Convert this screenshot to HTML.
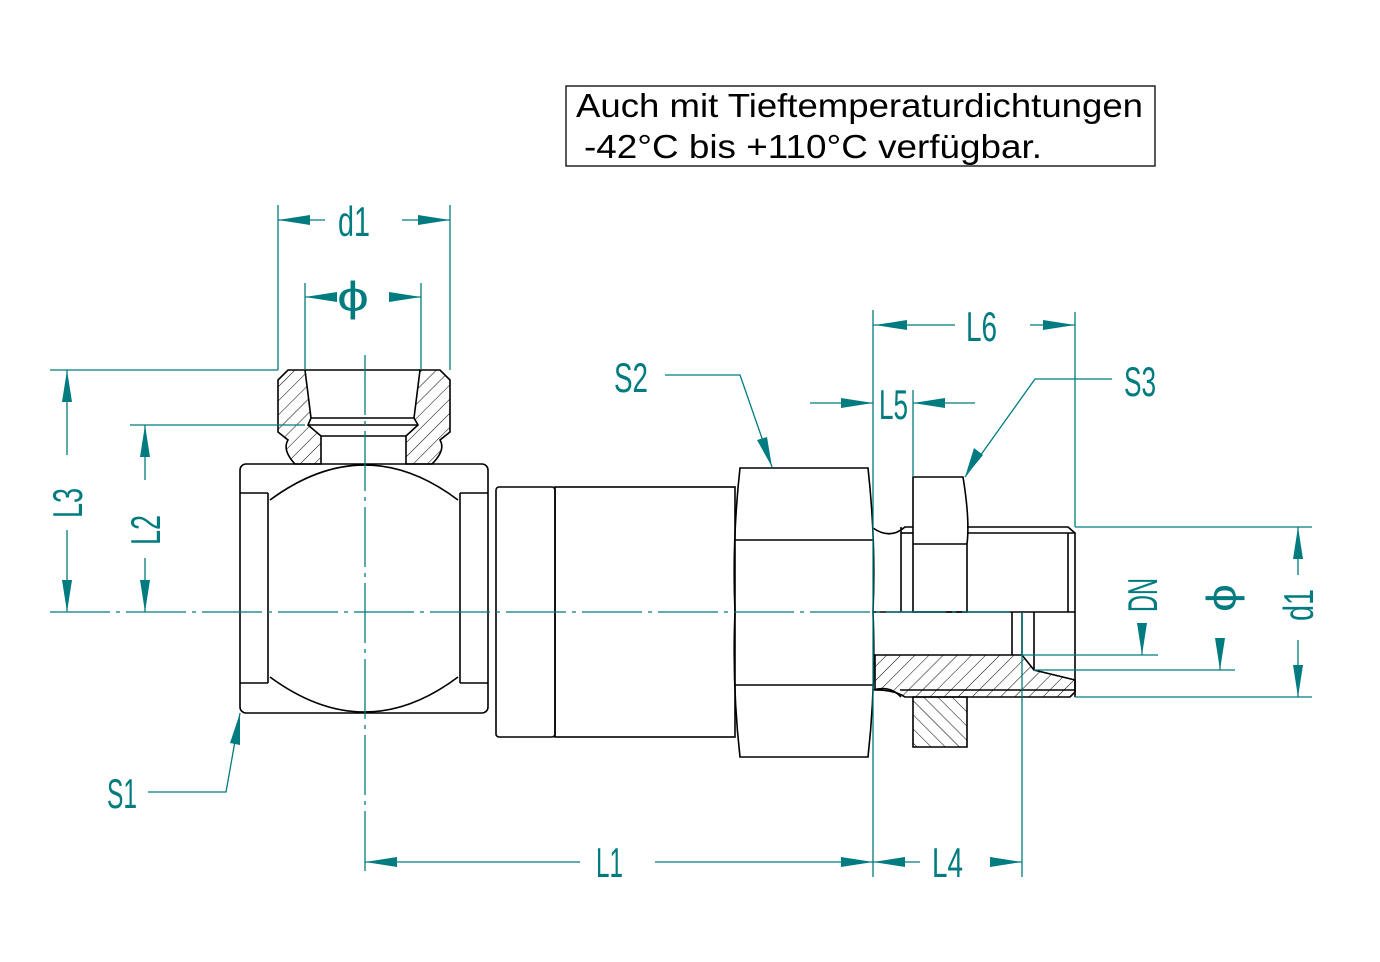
<!DOCTYPE html>
<html><head><meta charset="utf-8"><style>
html,body{margin:0;padding:0;background:#fff;}
svg{display:block}
.t{font-family:"Liberation Sans",sans-serif;fill:#007c80;font-size:42px;}
</style></head><body>
<svg width="1380" height="962" viewBox="0 0 1380 962" xmlns="http://www.w3.org/2000/svg">
<rect x="566" y="86" width="589" height="80" fill="none" stroke="#000" stroke-width="1.3"/>
<text x="576" y="117" font-family="Liberation Sans, sans-serif" font-size="33" textLength="567" lengthAdjust="spacingAndGlyphs">Auch mit Tieftemperaturdichtungen</text>
<text x="584" y="158" font-family="Liberation Sans, sans-serif" font-size="33" textLength="458" lengthAdjust="spacingAndGlyphs">-42°C bis +110°C verfügbar.</text>

<defs>
<pattern id="h" width="10" height="10" patternUnits="userSpaceOnUse" patternTransform="rotate(45)"><line x1="0" y1="0" x2="0" y2="10" stroke="#000" stroke-width="1"/></pattern>
<pattern id="h2" width="10" height="10" patternUnits="userSpaceOnUse" patternTransform="rotate(-45)"><line x1="0" y1="0" x2="0" y2="10" stroke="#000" stroke-width="1"/></pattern>
</defs>

<g fill="none" stroke="#000" stroke-width="1.6">
<path d="M278 380 L288 370 L305 370 L311 418 L308 425 L321 436 L321 464 L295 464 Q282 450 288 440 L278 432 Z" fill="url(#h)"/>
<path d="M450 380 L440 370 L420 370 L414 418 L418 425 L406 436 L406 464 L432 464 Q446 450 440 440 L450 432 Z" fill="url(#h)"/>
<line x1="305" y1="370" x2="420" y2="370"/>
<line x1="311" y1="418" x2="414" y2="418"/>
<line x1="308" y1="425" x2="418" y2="425"/>
<line x1="321" y1="436" x2="406" y2="436"/>
<rect x="240" y="464" width="248" height="249" rx="6"/>
<line x1="268" y1="493" x2="268" y2="683"/>
<line x1="460" y1="493" x2="460" y2="683"/>
<line x1="240" y1="493" x2="268" y2="493"/><line x1="460" y1="493" x2="488" y2="493"/>
<line x1="240" y1="683" x2="268" y2="683"/><line x1="460" y1="683" x2="488" y2="683"/>
<path d="M270 500 Q365 430 458 500"/>
<path d="M270 677 Q365 747 458 677"/>
<rect x="496" y="487" width="59" height="250" rx="3"/>
<rect x="555" y="487" width="180" height="250"/>
<path d="M740 468 L868 468 Q876 540 873 612 Q876 685 868 757 L740 757 Q732 685 735 612 Q732 540 740 468 Z"/>
<line x1="735" y1="540" x2="873" y2="540"/>
<line x1="735" y1="685" x2="873" y2="685"/>
<path d="M873 528 Q890 540 905 527 L913 527"/>
<line x1="901" y1="527" x2="901" y2="612"/>
<line x1="901" y1="533" x2="913" y2="533"/>
<path d="M913 477 L963 477 Q970 520 967 544 L967 612 L913 612 Z"/>
<line x1="913" y1="544" x2="967" y2="544"/>
<path d="M967 527 L1068 527 L1075 533 L1075 697"/>
<line x1="967" y1="533" x2="1075" y2="533"/>
<line x1="1068" y1="533" x2="1068" y2="612"/>
<line x1="873" y1="612" x2="1075" y2="612"/>
<line x1="1012" y1="612" x2="1012" y2="655"/>
<line x1="1022" y1="612" x2="1022" y2="655"/>
<line x1="1034" y1="612" x2="1034" y2="670"/>
<path d="M875 655 L1022 655 L1034 670 L1075 680 L1075 692 L1070 697 L905 697 Q895 690 875 690 Z" fill="url(#h)"/>
<path d="M900 690 L1075 690" />
<path d="M913 697 L967 697 L967 747 L913 747 Z" fill="url(#h2)"/>
<path d="M873 690 Q890 685 901 697"/>
</g>

<g stroke="#007c80" stroke-width="1.3" fill="none">
<line x1="50" y1="612" x2="1010" y2="612" stroke-dasharray="60,6,4,6"/>
<line x1="365" y1="355" x2="365" y2="877" stroke-dasharray="60,6,4,6"/>
<line x1="278" y1="205" x2="278" y2="370"/><line x1="450" y1="205" x2="450" y2="370"/>
<line x1="278" y1="220" x2="325" y2="220"/><line x1="402" y1="220" x2="450" y2="220"/>
<line x1="305" y1="283" x2="305" y2="370"/><line x1="421" y1="283" x2="421" y2="370"/>
<line x1="305" y1="297" x2="335" y2="297"/><line x1="390" y1="297" x2="421" y2="297"/>
<line x1="50" y1="370" x2="278" y2="370"/><line x1="130" y1="425" x2="305" y2="425"/>
<line x1="67" y1="370" x2="67" y2="455"/><line x1="67" y1="530" x2="67" y2="612"/>
<line x1="145" y1="425" x2="145" y2="480"/><line x1="145" y1="558" x2="145" y2="612"/>
<line x1="365" y1="862" x2="580" y2="862"/><line x1="655" y1="862" x2="873" y2="862"/>
<line x1="873" y1="862" x2="920" y2="862"/><line x1="990" y1="862" x2="1022" y2="862"/>
<line x1="873" y1="310" x2="873" y2="877"/><line x1="1022" y1="612" x2="1022" y2="877"/>
<line x1="1075" y1="312" x2="1075" y2="527"/>
<line x1="913" y1="390" x2="913" y2="477"/>
<line x1="873" y1="325" x2="955" y2="325"/><line x1="1030" y1="325" x2="1075" y2="325"/>
<line x1="810" y1="403" x2="873" y2="403"/><line x1="913" y1="403" x2="975" y2="403"/>
<polyline points="665,375 740,375 772,467"/>
<polyline points="1112,379 1035,379 965,477"/>
<polyline points="148,792 226,792 240,713"/>
<line x1="1075" y1="527" x2="1312" y2="527"/>
<line x1="1075" y1="697" x2="1312" y2="697"/>
<line x1="1022" y1="655" x2="1158" y2="655"/>
<line x1="1034" y1="670" x2="1235" y2="670"/>
<line x1="1142" y1="625" x2="1142" y2="655"/>
<line x1="1220" y1="640" x2="1220" y2="670"/>
<line x1="1298" y1="527" x2="1298" y2="575"/><line x1="1298" y1="640" x2="1298" y2="697"/>
</g>
<g fill="#007c80">
<polygon points="278,220 310,215 310,225"/><polygon points="450,220 418,215 418,225"/>
<polygon points="305,297 337,292 337,302"/><polygon points="421,297 389,292 389,302"/>
<polygon points="67,370 62,402 72,402"/><polygon points="67,612 62,580 72,580"/>
<polygon points="145,425 140,457 150,457"/><polygon points="145,612 140,580 150,580"/>
<polygon points="365,862 397,857 397,867"/><polygon points="873,862 841,857 841,867"/>
<polygon points="873,862 905,857 905,867"/><polygon points="1022,862 990,857 990,867"/>
<polygon points="875,325 907,320 907,330"/><polygon points="1075,325 1043,320 1043,330"/>
<polygon points="873,403 841,398 841,408"/><polygon points="913,403 945,398 945,408"/>
<polygon points="772,467 757,440 767,437"/>
<polygon points="965,477 974,448 983,455"/>
<polygon points="240,713 230,743 240,745"/>
<polygon points="1142,655 1137,623 1147,623"/>
<polygon points="1220,670 1215,638 1225,638"/>
<polygon points="1298,527 1293,559 1303,559"/><polygon points="1298,697 1293,665 1303,665"/>
</g>
<g class="t" lengthAdjust="spacingAndGlyphs">
<text x="338" y="236" textLength="32" lengthAdjust="spacingAndGlyphs">d1</text>
<text x="337" y="311" textLength="32" lengthAdjust="spacingAndGlyphs">ϕ</text>
<text x="596" y="877" textLength="27" lengthAdjust="spacingAndGlyphs">L1</text>
<text x="932" y="877" textLength="31" lengthAdjust="spacingAndGlyphs">L4</text>
<text x="966" y="341" textLength="31" lengthAdjust="spacingAndGlyphs">L6</text>
<text x="879" y="419" textLength="29" lengthAdjust="spacingAndGlyphs">L5</text>
<text x="614" y="392" textLength="34" lengthAdjust="spacingAndGlyphs">S2</text>
<text x="1124" y="396" textLength="32" lengthAdjust="spacingAndGlyphs">S3</text>
<text x="107" y="808" textLength="30" lengthAdjust="spacingAndGlyphs">S1</text>
<text transform="translate(82,518) rotate(-90)" textLength="30" lengthAdjust="spacingAndGlyphs">L3</text>
<text transform="translate(160,545) rotate(-90)" textLength="30" lengthAdjust="spacingAndGlyphs">L2</text>
<text transform="translate(1157,612) rotate(-90)" textLength="34" lengthAdjust="spacingAndGlyphs">DN</text>
<text transform="translate(1236,612) rotate(-90)" textLength="28" lengthAdjust="spacingAndGlyphs">ϕ</text>
<text transform="translate(1313,621) rotate(-90)" textLength="32" lengthAdjust="spacingAndGlyphs">d1</text>
</g>
</svg>
</body></html>
